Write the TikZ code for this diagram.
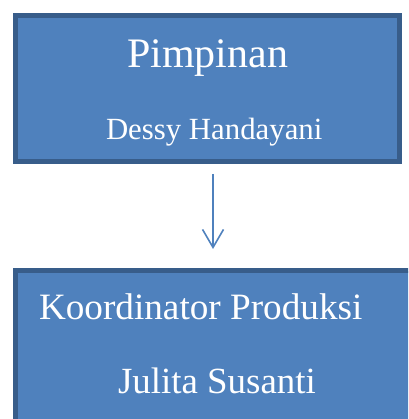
\documentclass[tikz,border=0pt]{standalone}
\usepackage{fontspec}
\setmainfont{Liberation Serif}
\usetikzlibrary{arrows.meta}
\definecolor{boxfill}{HTML}{4F81BD}
\definecolor{boxline}{HTML}{385D8A}
\tikzset{
  orgbox/.style={draw=boxline, fill=boxfill, line width=5pt, inner sep=0pt},
  lbl/.style={text=white, anchor=base west, inner sep=0pt, outer sep=0pt},
  conn/.style={draw=boxfill, line width=1.6pt, -{Straight Barb[length=18pt,width=21pt,line width=1.6pt]}}
}
\begin{document}
\begin{tikzpicture}[x=1pt,y=-1pt]
\useasboundingbox (0,0) rectangle (408,419);
\clip (0,0) rectangle (408,419);
\node[orgbox, minimum width=384pt, minimum height=146pt] (top) at (207.5,88.5) {};
\path[orgbox] (430,270.5) -- (15.5,270.5) -- (15.5,440) -- (430,440) -- cycle;
\node[lbl, font=\fontsize{42}{48}\selectfont] (t1) at (127,68) {Pimpinan};
\node[lbl, font=\fontsize{30.8}{36}\selectfont] (t2) at (106,140) {Dessy Handayani};
\node[lbl, font=\fontsize{37.2}{44}\selectfont] (t3) at (39,319) {Koordinator Produksi};
\node[lbl, font=\fontsize{36.9}{44}\selectfont] (t4) at (118,393) {Julita Susanti};
\coordinate (a1) at (213,174);
\coordinate (a2) at (213,249);
\draw[conn] (a1) -- (a2);
\end{tikzpicture}
\end{document}
